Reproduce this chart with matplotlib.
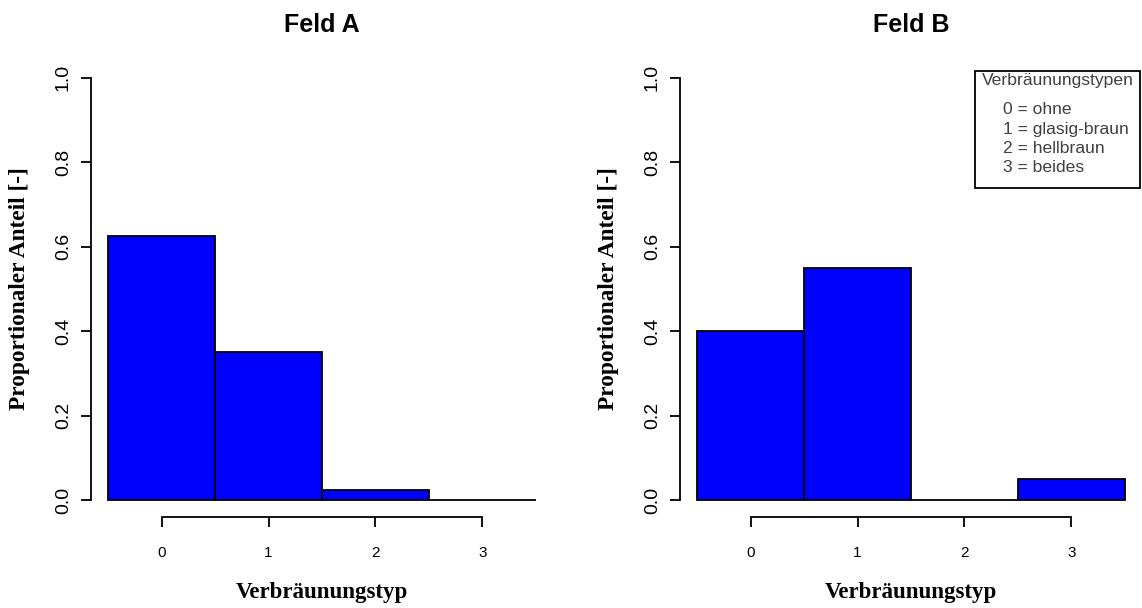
import numpy as np
import matplotlib.pyplot as plt
from matplotlib.patches import Rectangle

# Verbräunungstypen und proportionale Anteile je Feld
typen = [0, 1, 2, 3]
anteil_a = [0.625, 0.35, 0.025, 0.0]
anteil_b = [0.40, 0.55, 0.0, 0.05]
titel = ['Feld A', 'Feld B']
y_ticks = [0.0, 0.2, 0.4, 0.6, 0.8, 1.0]
legend_titel = 'Verbräunungstypen'
legend_eintraege = ['0 = ohne', '1 = glasig-braun', '2 = hellbraun', '3 = beides']

W, H = 1142, 608
fig = plt.figure(figsize=(W / 100, H / 100), dpi=100)

sans = ['Liberation Sans', 'DejaVu Sans']
serif = ['Liberation Serif', 'DejaVu Serif']


def px_box(x0, y0, x1, y1):
    # Pixelkoordinaten (oben links) -> Figure-Anteile
    return [x0 / W, 1 - y1 / H, (x1 - x0) / W, (y1 - y0) / H]


achsen = [fig.add_axes(px_box(91, 60.6, 553, 517.4)),
          fig.add_axes(px_box(680, 60.6, 1142, 517.4))]

for ax, werte, t in zip(achsen, [anteil_a, anteil_b], titel):
    ax.bar(typen, werte, width=1.0, color='#0000ff', edgecolor='black',
           linewidth=1.3, zorder=3)
    ax.set_xlim(-0.66, 3.66)
    ax.set_ylim(-0.04, 1.04)

    for s in ['top', 'right']:
        ax.spines[s].set_visible(False)
    ax.spines['left'].set_bounds(0, 1)
    ax.spines['bottom'].set_bounds(typen[0], typen[-1])
    for s in ['left', 'bottom']:
        ax.spines[s].set_linewidth(1.3)

    ax.set_xticks(typen)
    ax.set_xticklabels([str(t_) for t_ in typen], fontfamily=sans, fontsize=11)
    ax.set_yticks(y_ticks)
    ax.set_yticklabels([f'{v:.1f}' for v in y_ticks], fontfamily=sans,
                       fontsize=14, rotation=90, va='center')
    ax.tick_params(axis='x', length=7.2, width=1.3, pad=13.5)
    ax.tick_params(axis='y', length=7.2, width=1.3, pad=6.5)

    ax.set_title(t, fontfamily=sans, fontweight='bold', fontsize=18, pad=20.5)

    ax.set_xlabel('Verbräunungstyp', fontfamily=serif, fontweight='bold',
                  fontsize=16.5)
    ax.xaxis.set_label_coords(0.5, -0.164)
    ax.xaxis.label.set_va('center')
    ax.set_ylabel('Proportionaler Anteil [-]', fontfamily=serif,
                  fontweight='bold', fontsize=16.8)
    ax.yaxis.set_label_coords(-0.154, 0.5)
    ax.yaxis.label.set_va('center')

# Legende im rechten Feld
box = px_box(975, 71, 1140, 188)
fig.patches.append(Rectangle((box[0], box[1]), box[2], box[3],
                             transform=fig.transFigure, facecolor='white',
                             edgecolor='black', linewidth=1.3, zorder=5))
grau = '#404040'
fig.text(982 / W, 1 - 80 / H, legend_titel, fontfamily=sans, fontsize=12.6,
         color=grau, ha='left', va='center', zorder=6)
for i, e in enumerate(legend_eintraege):
    fig.text(1003 / W, 1 - (110 + 19.2 * i) / H, e, fontfamily=sans,
             fontsize=12.6, color=grau, ha='left', va='center', zorder=6)

fig.savefig('out.png', dpi=100)
